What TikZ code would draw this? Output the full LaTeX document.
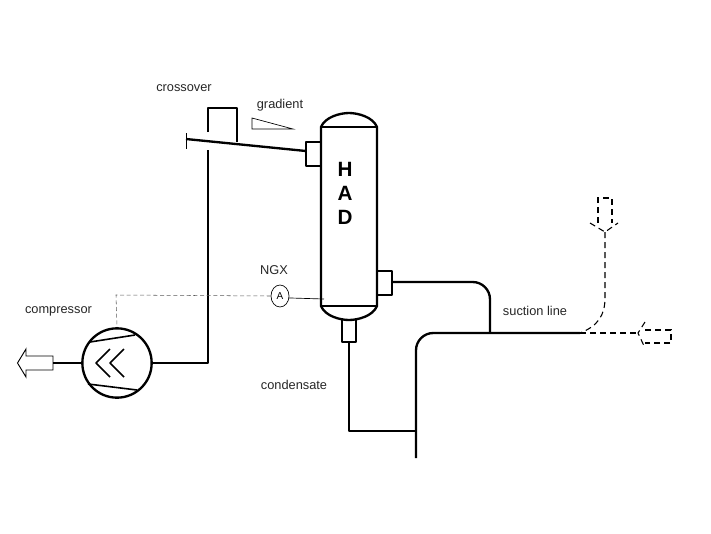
\documentclass[tikz,border=0pt]{standalone}
\usepackage{fontspec}
\setmainfont{Liberation Sans}
\usetikzlibrary{shapes.geometric}
\tikzset{
	pipe/.style={line width=1.75pt, line join=round},
	inner line/.style={line width=1.2pt, line join=round},
	thin line/.style={line width=0.5pt},
	signal/.style={line width=0.4pt, black!65, densely dashed},
	flow/.style={line width=0.8pt, dash pattern=on 4.5pt off 3pt},
	lbl/.style={inner sep=0pt, text=black!85, font=\fontsize{9.6}{11}\selectfont},
	letter/.style={inner sep=0pt, font=\fontsize{15.5}{17}\selectfont\bfseries}
}
\begin{document}
\begin{tikzpicture}[x=0.75pt, y=-0.75pt]
	\useasboundingbox (0,0) rectangle (711,533);
	% labels
	\node[lbl] (crossover) at (184,88.5) {crossover};
	\node[lbl] (gradient) at (280,105) {gradient};
	\node[lbl] (compressor) at (58.5,311) {compressor};
	\node[lbl] (ngx) at (274,270) {NGX};
	\node[lbl] (condensate) at (294,385) {condensate};
	\node[lbl] (suction) at (535,311) {suction line};
	\node[letter] (h) at (345,169) {H};
	\node[letter] (a) at (345,193) {A};
	\node[letter] (d) at (345,217) {D};
	% compressor
	\node[draw, circle, pipe, minimum size=52pt, inner sep=0pt] (comp) at (117,363) {};
	\draw[inner line] (90,342)--(135,335);
	\draw[inner line] (88,384)--(137,390);
	\draw[inner line] (110,349)--(96,363)--(110,377);
	\draw[inner line] (124,349)--(110,363)--(124,377);
	% vessel
	\draw[pipe] (321,127) .. controls (325,117) and (340,113) .. (349,113) .. controls (358,113) and (373,117) .. (377,127)
		--(377,306) .. controls (373,316) and (358,320) .. (349,320) .. controls (340,320) and (325,316) .. (321,306)--cycle;
	\draw[pipe] (321,127)--(377,127);
	\draw[pipe] (321,306)--(377,306);
	% nozzles
	\draw[pipe] (320,142)--(306,142)--(306,166)--(320,166);
	\coordinate (inlet) at (306,151);
	\draw[pipe] (377,271)--(392,271)--(392,295)--(377,295);
	\coordinate (outlet) at (392,282);
	\draw[pipe] (342,320)--(342,342)--(356,342)--(356,320);
	\coordinate (drain) at (349,342);
	% crossover and header
	\coordinate (head) at (186,139);
	\coordinate (legin) at (208,363);
	\coordinate (legtop) at (208,150);
	\coordinate (legup) at (208,132);
	\coordinate (cornera) at (208,108);
	\coordinate (cornerb) at (237,108);
	\coordinate (legend) at (237,142);
	\draw[pipe] (comp)--(legin)--(legtop);
	\draw[pipe] (legup)--(cornera)--(cornerb)--(legend);
	\draw[pipe] (head)--(inlet);
	\draw[thin line] (186,133)--(186,149);
	% gradient mark
	\draw[thin line] (252,118)--(252,129)--(293,129)--cycle;
	% instrument
	\node[draw, ellipse, thin line, minimum width=13.5pt, minimum height=16.5pt, inner sep=0pt, font=\fontsize{7.5}{9}\selectfont] (amp) at (280,296) {A};
	\coordinate (probe) at (324,299);
	\coordinate (bend) at (116,295);
	\draw[thin line] (amp.-12)--(probe);
	\draw[signal] (amp.west)--(bend)--(comp.north);
	% suction side
	\coordinate (tee) at (490,333);
	\coordinate (main) at (580,333);
	\coordinate (low) at (416,458);
	\coordinate (join) at (416,431);
	\draw[pipe, rounded corners=13pt] (outlet)--(490,282)--(tee);
	\draw[pipe, rounded corners=13pt] (main)--(416,333)--(low);
	\draw[pipe] (drain)--(349,431)--(join);
	% dashed branches
	\coordinate (tipa) at (605,232);
	\coordinate (tipb) at (638,333);
	\draw[flow] (590,223)--(tipa)--(618,223);
	\draw[flow] (598,223)--(598,198)--(612,198)--(612,223);
	\draw[flow] (tipa)--(605,298) .. controls (605,315) and (598,326) .. (main);
	\draw[flow] (main)--(tipb);
	\draw[flow] (645,322)--(tipb)--(645,348);
	\draw[flow] (645,330)--(671,330)--(671,343)--(645,343);
	% outlet arrow
	\coordinate (tail) at (53,363);
	\draw[pipe] (comp)--(tail);
	\draw[line width=0.7pt] (53,356)--(26,356)--(26,349)--(17.5,363)--(26,377)--(26,370)--(53,370)--cycle;
\end{tikzpicture}
\end{document}
